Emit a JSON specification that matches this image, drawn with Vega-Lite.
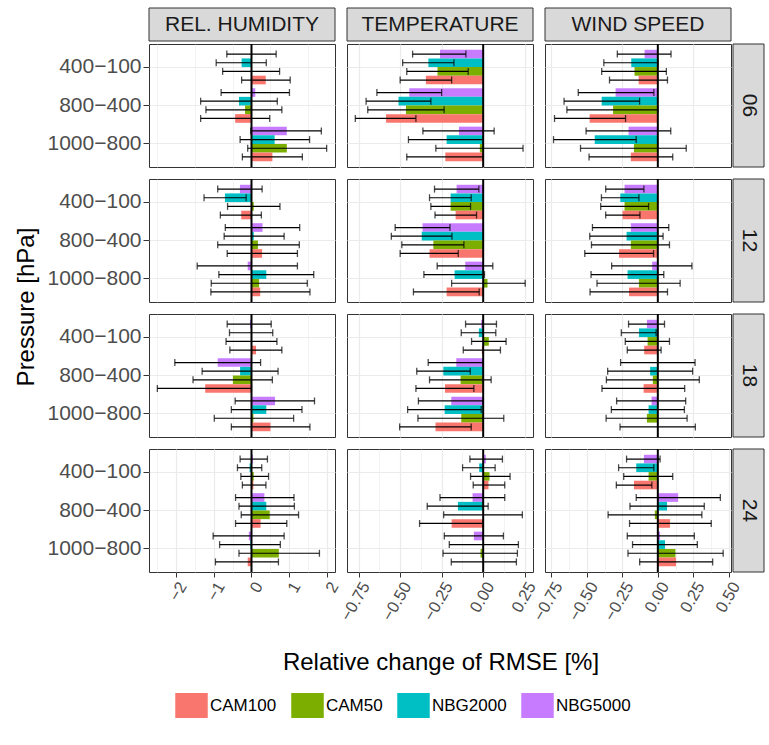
{
  "$schema": "https://vega.github.io/schema/vega-lite/v6.json",
  "background": "white",
  "padding": {"left": 15, "top": 7, "right": 2, "bottom": 8},
  "config": {
    "font": "Liberation Sans",
    "view": {"stroke": "#333333", "strokeWidth": 1},
    "axis": {"domain": false, "gridColor": "#EBEBEB", "tickColor": "#333333", "labelColor": "#4D4D4D", "titleFontWeight": "normal", "titleColor": "black", "tickSize": 6, "labelPadding": 2},
    "axisY": {"labelFontSize": 21},
    "axisX": {"labelFontSize": 16.5, "tickSize": 5},
    "legend": {"orient": "bottom", "direction": "horizontal", "labelFontSize": 17, "labelColor": "black", "symbolType": "M-1.3,-1H1.3V1H-1.3Z", "symbolSize": 625, "symbolStrokeWidth": 0, "symbolOpacity": 1, "columnPadding": 14, "labelOffset": 6, "offset": 15, "layout": {"bottom": {"anchor": "middle", "bounds": "full"}}}
  },
  "datasets": {
    "main": [
      {"hour":"06","variable":"REL. HUMIDITY","pressure":"400-100","model":"NBG5000","value":0.0,"lower":-0.65,"upper":0.65},
      {"hour":"06","variable":"REL. HUMIDITY","pressure":"400-100","model":"NBG2000","value":-0.26,"lower":-0.93,"upper":0.39},
      {"hour":"06","variable":"REL. HUMIDITY","pressure":"400-100","model":"CAM50","value":0.0,"lower":-0.76,"upper":0.74},
      {"hour":"06","variable":"REL. HUMIDITY","pressure":"400-100","model":"CAM100","value":0.375,"lower":-0.26,"upper":1.02},
      {"hour":"06","variable":"REL. HUMIDITY","pressure":"800-400","model":"NBG5000","value":0.1,"lower":-0.8,"upper":1.0},
      {"hour":"06","variable":"REL. HUMIDITY","pressure":"800-400","model":"NBG2000","value":-0.33,"lower":-1.34,"upper":0.68},
      {"hour":"06","variable":"REL. HUMIDITY","pressure":"800-400","model":"CAM50","value":-0.17,"lower":-1.2,"upper":0.8},
      {"hour":"06","variable":"REL. HUMIDITY","pressure":"800-400","model":"CAM100","value":-0.43,"lower":-1.34,"upper":0.48},
      {"hour":"06","variable":"REL. HUMIDITY","pressure":"1000-800","model":"NBG5000","value":0.93,"lower":-0.02,"upper":1.84},
      {"hour":"06","variable":"REL. HUMIDITY","pressure":"1000-800","model":"NBG2000","value":0.61,"lower":-0.3,"upper":1.53},
      {"hour":"06","variable":"REL. HUMIDITY","pressure":"1000-800","model":"CAM50","value":0.93,"lower":-0.1,"upper":1.98},
      {"hour":"06","variable":"REL. HUMIDITY","pressure":"1000-800","model":"CAM100","value":0.55,"lower":-0.24,"upper":1.34},
      {"hour":"06","variable":"TEMPERATURE","pressure":"400-100","model":"NBG5000","value":-0.26,"lower":-0.425,"upper":-0.104},
      {"hour":"06","variable":"TEMPERATURE","pressure":"400-100","model":"NBG2000","value":-0.33,"lower":-0.485,"upper":-0.176},
      {"hour":"06","variable":"TEMPERATURE","pressure":"400-100","model":"CAM50","value":-0.275,"lower":-0.46,"upper":-0.09},
      {"hour":"06","variable":"TEMPERATURE","pressure":"400-100","model":"CAM100","value":-0.345,"lower":-0.5,"upper":-0.19},
      {"hour":"06","variable":"TEMPERATURE","pressure":"800-400","model":"NBG5000","value":-0.445,"lower":-0.64,"upper":-0.25},
      {"hour":"06","variable":"TEMPERATURE","pressure":"800-400","model":"NBG2000","value":-0.51,"lower":-0.705,"upper":-0.315},
      {"hour":"06","variable":"TEMPERATURE","pressure":"800-400","model":"CAM50","value":-0.465,"lower":-0.695,"upper":-0.235},
      {"hour":"06","variable":"TEMPERATURE","pressure":"800-400","model":"CAM100","value":-0.585,"lower":-0.77,"upper":-0.405},
      {"hour":"06","variable":"TEMPERATURE","pressure":"1000-800","model":"NBG5000","value":-0.146,"lower":-0.363,"upper":0.066},
      {"hour":"06","variable":"TEMPERATURE","pressure":"1000-800","model":"NBG2000","value":-0.22,"lower":-0.45,"upper":0.0},
      {"hour":"06","variable":"TEMPERATURE","pressure":"1000-800","model":"CAM50","value":-0.02,"lower":-0.285,"upper":0.24},
      {"hour":"06","variable":"TEMPERATURE","pressure":"1000-800","model":"CAM100","value":-0.228,"lower":-0.46,"upper":0.0},
      {"hour":"06","variable":"WIND SPEED","pressure":"400-100","model":"NBG5000","value":-0.093,"lower":-0.285,"upper":0.093},
      {"hour":"06","variable":"WIND SPEED","pressure":"400-100","model":"NBG2000","value":-0.187,"lower":-0.38,"upper":0.0},
      {"hour":"06","variable":"WIND SPEED","pressure":"400-100","model":"CAM50","value":-0.164,"lower":-0.395,"upper":0.06},
      {"hour":"06","variable":"WIND SPEED","pressure":"400-100","model":"CAM100","value":-0.135,"lower":-0.34,"upper":0.068},
      {"hour":"06","variable":"WIND SPEED","pressure":"800-400","model":"NBG5000","value":-0.297,"lower":-0.56,"upper":-0.028},
      {"hour":"06","variable":"WIND SPEED","pressure":"800-400","model":"NBG2000","value":-0.395,"lower":-0.66,"upper":-0.128},
      {"hour":"06","variable":"WIND SPEED","pressure":"800-400","model":"CAM50","value":-0.315,"lower":-0.64,"upper":0.0},
      {"hour":"06","variable":"WIND SPEED","pressure":"800-400","model":"CAM100","value":-0.48,"lower":-0.727,"upper":-0.227},
      {"hour":"06","variable":"WIND SPEED","pressure":"1000-800","model":"NBG5000","value":-0.206,"lower":-0.505,"upper":0.091},
      {"hour":"06","variable":"WIND SPEED","pressure":"1000-800","model":"NBG2000","value":-0.444,"lower":-0.734,"upper":-0.152},
      {"hour":"06","variable":"WIND SPEED","pressure":"1000-800","model":"CAM50","value":-0.168,"lower":-0.544,"upper":0.2},
      {"hour":"06","variable":"WIND SPEED","pressure":"1000-800","model":"CAM100","value":-0.19,"lower":-0.484,"upper":0.105},
      {"hour":"12","variable":"REL. HUMIDITY","pressure":"400-100","model":"NBG5000","value":-0.305,"lower":-0.89,"upper":0.28},
      {"hour":"12","variable":"REL. HUMIDITY","pressure":"400-100","model":"NBG2000","value":-0.7,"lower":-1.25,"upper":-0.14},
      {"hour":"12","variable":"REL. HUMIDITY","pressure":"400-100","model":"CAM50","value":0.06,"lower":-0.63,"upper":0.75},
      {"hour":"12","variable":"REL. HUMIDITY","pressure":"400-100","model":"CAM100","value":-0.27,"lower":-0.82,"upper":0.26},
      {"hour":"12","variable":"REL. HUMIDITY","pressure":"800-400","model":"NBG5000","value":0.29,"lower":-0.69,"upper":1.27},
      {"hour":"12","variable":"REL. HUMIDITY","pressure":"800-400","model":"NBG2000","value":0.06,"lower":-0.72,"upper":0.86},
      {"hour":"12","variable":"REL. HUMIDITY","pressure":"800-400","model":"CAM50","value":0.17,"lower":-0.89,"upper":1.26},
      {"hour":"12","variable":"REL. HUMIDITY","pressure":"800-400","model":"CAM100","value":0.28,"lower":-0.64,"upper":1.21},
      {"hour":"12","variable":"REL. HUMIDITY","pressure":"1000-800","model":"NBG5000","value":-0.1,"lower":-1.43,"upper":1.21},
      {"hour":"12","variable":"REL. HUMIDITY","pressure":"1000-800","model":"NBG2000","value":0.39,"lower":-0.86,"upper":1.64},
      {"hour":"12","variable":"REL. HUMIDITY","pressure":"1000-800","model":"CAM50","value":0.2,"lower":-1.06,"upper":1.47},
      {"hour":"12","variable":"REL. HUMIDITY","pressure":"1000-800","model":"CAM100","value":0.23,"lower":-1.07,"upper":1.54},
      {"hour":"12","variable":"TEMPERATURE","pressure":"400-100","model":"NBG5000","value":-0.16,"lower":-0.293,"upper":-0.026},
      {"hour":"12","variable":"TEMPERATURE","pressure":"400-100","model":"NBG2000","value":-0.196,"lower":-0.323,"upper":-0.072},
      {"hour":"12","variable":"TEMPERATURE","pressure":"400-100","model":"CAM50","value":-0.196,"lower":-0.315,"upper":-0.076},
      {"hour":"12","variable":"TEMPERATURE","pressure":"400-100","model":"CAM100","value":-0.166,"lower":-0.29,"upper":-0.04},
      {"hour":"12","variable":"TEMPERATURE","pressure":"800-400","model":"NBG5000","value":-0.365,"lower":-0.53,"upper":-0.2},
      {"hour":"12","variable":"TEMPERATURE","pressure":"800-400","model":"NBG2000","value":-0.37,"lower":-0.553,"upper":-0.188},
      {"hour":"12","variable":"TEMPERATURE","pressure":"800-400","model":"CAM50","value":-0.3,"lower":-0.49,"upper":-0.116},
      {"hour":"12","variable":"TEMPERATURE","pressure":"800-400","model":"CAM100","value":-0.323,"lower":-0.5,"upper":-0.15},
      {"hour":"12","variable":"TEMPERATURE","pressure":"1000-800","model":"NBG5000","value":-0.108,"lower":-0.277,"upper":0.058},
      {"hour":"12","variable":"TEMPERATURE","pressure":"1000-800","model":"NBG2000","value":-0.172,"lower":-0.357,"upper":0.008},
      {"hour":"12","variable":"TEMPERATURE","pressure":"1000-800","model":"CAM50","value":0.026,"lower":-0.19,"upper":0.253},
      {"hour":"12","variable":"TEMPERATURE","pressure":"1000-800","model":"CAM100","value":-0.22,"lower":-0.42,"upper":-0.024},
      {"hour":"12","variable":"WIND SPEED","pressure":"400-100","model":"NBG5000","value":-0.234,"lower":-0.367,"upper":-0.098},
      {"hour":"12","variable":"WIND SPEED","pressure":"400-100","model":"NBG2000","value":-0.264,"lower":-0.397,"upper":-0.133},
      {"hour":"12","variable":"WIND SPEED","pressure":"400-100","model":"CAM50","value":-0.234,"lower":-0.402,"upper":-0.065},
      {"hour":"12","variable":"WIND SPEED","pressure":"400-100","model":"CAM100","value":-0.248,"lower":-0.367,"upper":-0.126},
      {"hour":"12","variable":"WIND SPEED","pressure":"800-400","model":"NBG5000","value":-0.19,"lower":-0.46,"upper":0.077},
      {"hour":"12","variable":"WIND SPEED","pressure":"800-400","model":"NBG2000","value":-0.22,"lower":-0.479,"upper":0.037},
      {"hour":"12","variable":"WIND SPEED","pressure":"800-400","model":"CAM50","value":-0.19,"lower":-0.467,"upper":0.082},
      {"hour":"12","variable":"WIND SPEED","pressure":"800-400","model":"CAM100","value":-0.273,"lower":-0.514,"upper":-0.03},
      {"hour":"12","variable":"WIND SPEED","pressure":"1000-800","model":"NBG5000","value":-0.04,"lower":-0.325,"upper":0.24},
      {"hour":"12","variable":"WIND SPEED","pressure":"1000-800","model":"NBG2000","value":-0.213,"lower":-0.47,"upper":0.042},
      {"hour":"12","variable":"WIND SPEED","pressure":"1000-800","model":"CAM50","value":-0.133,"lower":-0.428,"upper":0.157},
      {"hour":"12","variable":"WIND SPEED","pressure":"1000-800","model":"CAM100","value":-0.203,"lower":-0.477,"upper":0.068},
      {"hour":"18","variable":"REL. HUMIDITY","pressure":"400-100","model":"NBG5000","value":-0.04,"lower":-0.64,"upper":0.52},
      {"hour":"18","variable":"REL. HUMIDITY","pressure":"400-100","model":"NBG2000","value":0.0,"lower":-0.58,"upper":0.56},
      {"hour":"18","variable":"REL. HUMIDITY","pressure":"400-100","model":"CAM50","value":0.0,"lower":-0.67,"upper":0.67},
      {"hour":"18","variable":"REL. HUMIDITY","pressure":"400-100","model":"CAM100","value":0.12,"lower":-0.57,"upper":0.8},
      {"hour":"18","variable":"REL. HUMIDITY","pressure":"800-400","model":"NBG5000","value":-0.89,"lower":-2.02,"upper":0.24},
      {"hour":"18","variable":"REL. HUMIDITY","pressure":"800-400","model":"NBG2000","value":-0.3,"lower":-1.3,"upper":0.7},
      {"hour":"18","variable":"REL. HUMIDITY","pressure":"800-400","model":"CAM50","value":-0.49,"lower":-1.54,"upper":0.55},
      {"hour":"18","variable":"REL. HUMIDITY","pressure":"800-400","model":"CAM100","value":-1.22,"lower":-2.48,"upper":0.0},
      {"hour":"18","variable":"REL. HUMIDITY","pressure":"1000-800","model":"NBG5000","value":0.62,"lower":-0.43,"upper":1.66},
      {"hour":"18","variable":"REL. HUMIDITY","pressure":"1000-800","model":"NBG2000","value":0.39,"lower":-0.53,"upper":1.33},
      {"hour":"18","variable":"REL. HUMIDITY","pressure":"1000-800","model":"CAM50","value":0.05,"lower":-0.98,"upper":1.11},
      {"hour":"18","variable":"REL. HUMIDITY","pressure":"1000-800","model":"CAM100","value":0.5,"lower":-0.53,"upper":1.54},
      {"hour":"18","variable":"TEMPERATURE","pressure":"400-100","model":"NBG5000","value":-0.012,"lower":-0.106,"upper":0.08},
      {"hour":"18","variable":"TEMPERATURE","pressure":"400-100","model":"NBG2000","value":-0.026,"lower":-0.132,"upper":0.076},
      {"hour":"18","variable":"TEMPERATURE","pressure":"400-100","model":"CAM50","value":0.034,"lower":-0.07,"upper":0.138},
      {"hour":"18","variable":"TEMPERATURE","pressure":"400-100","model":"CAM100","value":-0.008,"lower":-0.12,"upper":0.104},
      {"hour":"18","variable":"TEMPERATURE","pressure":"800-400","model":"NBG5000","value":-0.162,"lower":-0.331,"upper":0.0},
      {"hour":"18","variable":"TEMPERATURE","pressure":"800-400","model":"NBG2000","value":-0.24,"lower":-0.4,"upper":-0.078},
      {"hour":"18","variable":"TEMPERATURE","pressure":"800-400","model":"CAM50","value":-0.136,"lower":-0.323,"upper":0.048},
      {"hour":"18","variable":"TEMPERATURE","pressure":"800-400","model":"CAM100","value":-0.23,"lower":-0.405,"upper":-0.056},
      {"hour":"18","variable":"TEMPERATURE","pressure":"1000-800","model":"NBG5000","value":-0.192,"lower":-0.39,"upper":0.0},
      {"hour":"18","variable":"TEMPERATURE","pressure":"1000-800","model":"NBG2000","value":-0.232,"lower":-0.455,"upper":-0.012},
      {"hour":"18","variable":"TEMPERATURE","pressure":"1000-800","model":"CAM50","value":-0.132,"lower":-0.393,"upper":0.124},
      {"hour":"18","variable":"TEMPERATURE","pressure":"1000-800","model":"CAM100","value":-0.287,"lower":-0.503,"upper":-0.072},
      {"hour":"18","variable":"WIND SPEED","pressure":"400-100","model":"NBG5000","value":-0.077,"lower":-0.206,"upper":0.047},
      {"hour":"18","variable":"WIND SPEED","pressure":"400-100","model":"NBG2000","value":-0.133,"lower":-0.257,"upper":-0.012},
      {"hour":"18","variable":"WIND SPEED","pressure":"400-100","model":"CAM50","value":-0.072,"lower":-0.229,"upper":0.082},
      {"hour":"18","variable":"WIND SPEED","pressure":"400-100","model":"CAM100","value":-0.096,"lower":-0.215,"upper":0.023},
      {"hour":"18","variable":"WIND SPEED","pressure":"800-400","model":"NBG5000","value":0.0,"lower":-0.262,"upper":0.262},
      {"hour":"18","variable":"WIND SPEED","pressure":"800-400","model":"NBG2000","value":-0.054,"lower":-0.353,"upper":0.245},
      {"hour":"18","variable":"WIND SPEED","pressure":"800-400","model":"CAM50","value":-0.035,"lower":-0.362,"upper":0.292},
      {"hour":"18","variable":"WIND SPEED","pressure":"800-400","model":"CAM100","value":-0.1,"lower":-0.393,"upper":0.189},
      {"hour":"18","variable":"WIND SPEED","pressure":"1000-800","model":"NBG5000","value":-0.044,"lower":-0.29,"upper":0.196},
      {"hour":"18","variable":"WIND SPEED","pressure":"1000-800","model":"NBG2000","value":-0.065,"lower":-0.327,"upper":0.187},
      {"hour":"18","variable":"WIND SPEED","pressure":"1000-800","model":"CAM50","value":-0.077,"lower":-0.364,"upper":0.206},
      {"hour":"18","variable":"WIND SPEED","pressure":"1000-800","model":"CAM100","value":0.0,"lower":-0.266,"upper":0.264},
      {"hour":"24","variable":"REL. HUMIDITY","pressure":"400-100","model":"NBG5000","value":0.04,"lower":-0.3,"upper":0.42},
      {"hour":"24","variable":"REL. HUMIDITY","pressure":"400-100","model":"NBG2000","value":-0.05,"lower":-0.37,"upper":0.27},
      {"hour":"24","variable":"REL. HUMIDITY","pressure":"400-100","model":"CAM50","value":0.06,"lower":-0.28,"upper":0.45},
      {"hour":"24","variable":"REL. HUMIDITY","pressure":"400-100","model":"CAM100","value":0.05,"lower":-0.24,"upper":0.38},
      {"hour":"24","variable":"REL. HUMIDITY","pressure":"800-400","model":"NBG5000","value":0.34,"lower":-0.42,"upper":1.12},
      {"hour":"24","variable":"REL. HUMIDITY","pressure":"800-400","model":"NBG2000","value":0.39,"lower":-0.33,"upper":1.13},
      {"hour":"24","variable":"REL. HUMIDITY","pressure":"800-400","model":"CAM50","value":0.48,"lower":-0.27,"upper":1.24},
      {"hour":"24","variable":"REL. HUMIDITY","pressure":"800-400","model":"CAM100","value":0.24,"lower":-0.42,"upper":0.93},
      {"hour":"24","variable":"REL. HUMIDITY","pressure":"1000-800","model":"NBG5000","value":-0.07,"lower":-1.01,"upper":0.86},
      {"hour":"24","variable":"REL. HUMIDITY","pressure":"1000-800","model":"NBG2000","value":-0.03,"lower":-0.84,"upper":0.76},
      {"hour":"24","variable":"REL. HUMIDITY","pressure":"1000-800","model":"CAM50","value":0.72,"lower":-0.33,"upper":1.79},
      {"hour":"24","variable":"REL. HUMIDITY","pressure":"1000-800","model":"CAM100","value":-0.1,"lower":-0.95,"upper":0.71},
      {"hour":"24","variable":"TEMPERATURE","pressure":"400-100","model":"NBG5000","value":0.016,"lower":-0.08,"upper":0.116},
      {"hour":"24","variable":"TEMPERATURE","pressure":"400-100","model":"NBG2000","value":-0.024,"lower":-0.124,"upper":0.072},
      {"hour":"24","variable":"TEMPERATURE","pressure":"400-100","model":"CAM50","value":0.038,"lower":-0.076,"upper":0.162},
      {"hour":"24","variable":"TEMPERATURE","pressure":"400-100","model":"CAM100","value":0.032,"lower":-0.06,"upper":0.13},
      {"hour":"24","variable":"TEMPERATURE","pressure":"800-400","model":"NBG5000","value":-0.064,"lower":-0.26,"upper":0.13},
      {"hour":"24","variable":"TEMPERATURE","pressure":"800-400","model":"NBG2000","value":-0.152,"lower":-0.337,"upper":0.03},
      {"hour":"24","variable":"TEMPERATURE","pressure":"800-400","model":"CAM50","value":0.0,"lower":-0.238,"upper":0.236},
      {"hour":"24","variable":"TEMPERATURE","pressure":"800-400","model":"CAM100","value":-0.19,"lower":-0.383,"upper":0.0},
      {"hour":"24","variable":"TEMPERATURE","pressure":"1000-800","model":"NBG5000","value":-0.056,"lower":-0.234,"upper":0.122},
      {"hour":"24","variable":"TEMPERATURE","pressure":"1000-800","model":"NBG2000","value":0.0,"lower":-0.204,"upper":0.212},
      {"hour":"24","variable":"TEMPERATURE","pressure":"1000-800","model":"CAM50","value":-0.016,"lower":-0.242,"upper":0.206},
      {"hour":"24","variable":"TEMPERATURE","pressure":"1000-800","model":"CAM100","value":0.0,"lower":-0.192,"upper":0.2},
      {"hour":"24","variable":"WIND SPEED","pressure":"400-100","model":"NBG5000","value":-0.098,"lower":-0.22,"upper":0.016},
      {"hour":"24","variable":"WIND SPEED","pressure":"400-100","model":"NBG2000","value":-0.152,"lower":-0.276,"upper":-0.028},
      {"hour":"24","variable":"WIND SPEED","pressure":"400-100","model":"CAM50","value":-0.065,"lower":-0.24,"upper":0.105},
      {"hour":"24","variable":"WIND SPEED","pressure":"400-100","model":"CAM100","value":-0.168,"lower":-0.292,"upper":-0.042},
      {"hour":"24","variable":"WIND SPEED","pressure":"800-400","model":"NBG5000","value":0.143,"lower":-0.152,"upper":0.44},
      {"hour":"24","variable":"WIND SPEED","pressure":"800-400","model":"NBG2000","value":0.065,"lower":-0.196,"upper":0.327},
      {"hour":"24","variable":"WIND SPEED","pressure":"800-400","model":"CAM50","value":-0.021,"lower":-0.35,"upper":0.31},
      {"hour":"24","variable":"WIND SPEED","pressure":"800-400","model":"CAM100","value":0.086,"lower":-0.199,"upper":0.376},
      {"hour":"24","variable":"WIND SPEED","pressure":"1000-800","model":"NBG5000","value":0.016,"lower":-0.215,"upper":0.257},
      {"hour":"24","variable":"WIND SPEED","pressure":"1000-800","model":"NBG2000","value":0.051,"lower":-0.178,"upper":0.278},
      {"hour":"24","variable":"WIND SPEED","pressure":"1000-800","model":"CAM50","value":0.124,"lower":-0.21,"upper":0.46},
      {"hour":"24","variable":"WIND SPEED","pressure":"1000-800","model":"CAM100","value":0.128,"lower":-0.128,"upper":0.386}
    ]
  },
  "hconcat": [
    {
      "width": 24, "height": 598,
      "view": {"stroke": null},
      "data": {"values": [{"t": "Pressure [hPa]"}]},
      "mark": {"type": "text", "angle": 270, "fontSize": 24, "color": "black"},
      "encoding": {"text": {"field": "t"}}
    },
    {
      "vconcat": [
        {
          "hconcat": [
            {
              "hconcat": [
                {
                  "vconcat": [
                    {
                      "width": 186, "height": 33, "view": {"stroke": null},
                      "data": {"values": [{"label": "REL. HUMIDITY"}]},
                      "layer": [
                        {"mark": {"type": "rect", "fill": "#D9D9D9", "stroke": "#333333", "strokeWidth": 1}, "encoding": {}},
                        {"mark": {"type": "text", "fontSize": 21, "color": "#1A1A1A"}, "encoding": {"text": {"field": "label"}}}
                      ]
                    },
                    {
                      "vconcat": [
                        {"width":186,"height":123,"data":{"name":"main"},"transform":[{"filter":"datum.variable === 'REL. HUMIDITY' && datum.hour === '06'"}],"layer":[
                          {"mark":{"type":"bar"},"encoding":{"y":{"field":"pressure","type":"nominal","sort":["400-100","800-400","1000-800"],"scale":{"paddingInner":0.1,"paddingOuter":0.15},"axis":{"title":null,"labelExpr":"replace(datum.label, '-', '−')","bandPosition":0.5,"grid":true}},"yOffset":{"field":"model","type":"nominal","sort":["NBG5000","NBG2000","CAM50","CAM100"],"scale":{"paddingInner":0,"paddingOuter":0}},"x":{"field":"value","type":"quantitative","stack":null,"scale":{"domain":[-2.7,2.2],"nice":false,"zero":false},"axis":{"title":null,"values":[-2.5,-2,-1.5,-1,-0.5,0,0.5,1,1.5,2],"labels":false,"ticks":false,"gridWidth":{"condition":{"test":"abs(datum.value - round(datum.value)) < 1e-6","value":1.2},"value":0.6}}},"x2":{"datum":0},"color":{"field":"model","type":"nominal","scale":{"domain":["CAM100","CAM50","NBG2000","NBG5000"],"range":["#F8766D","#7CAE00","#00BFC4","#C77CFF"]},"legend":{"title":null}}}},
                          {"mark":{"type":"rule","color":"black","strokeWidth":1.2},"encoding":{"y":{"field":"pressure","type":"nominal","sort":["400-100","800-400","1000-800"]},"yOffset":{"field":"model","type":"nominal","sort":["NBG5000","NBG2000","CAM50","CAM100"]},"x":{"field":"lower","type":"quantitative"},"x2":{"field":"upper"}}},
                          {"mark":{"type":"tick","color":"black","thickness":1.3,"size":7},"encoding":{"y":{"field":"pressure","type":"nominal","sort":["400-100","800-400","1000-800"]},"yOffset":{"field":"model","type":"nominal","sort":["NBG5000","NBG2000","CAM50","CAM100"]},"x":{"field":"lower","type":"quantitative"}}},
                          {"mark":{"type":"tick","color":"black","thickness":1.3,"size":7},"encoding":{"y":{"field":"pressure","type":"nominal","sort":["400-100","800-400","1000-800"]},"yOffset":{"field":"model","type":"nominal","sort":["NBG5000","NBG2000","CAM50","CAM100"]},"x":{"field":"upper","type":"quantitative"}}},
                          {"transform":[{"filter":"datum.model === 'CAM100' && datum.pressure === '400-100'"}],"mark":{"type":"rule","color":"black","strokeWidth":2},"encoding":{"x":{"datum":0}}}
                        ]},
                        {"width":186,"height":123,"data":{"name":"main"},"transform":[{"filter":"datum.variable === 'REL. HUMIDITY' && datum.hour === '12'"}],"layer":[
                          {"mark":{"type":"bar"},"encoding":{"y":{"field":"pressure","type":"nominal","sort":["400-100","800-400","1000-800"],"scale":{"paddingInner":0.1,"paddingOuter":0.15},"axis":{"title":null,"labelExpr":"replace(datum.label, '-', '−')","bandPosition":0.5,"grid":true}},"yOffset":{"field":"model","type":"nominal","sort":["NBG5000","NBG2000","CAM50","CAM100"],"scale":{"paddingInner":0,"paddingOuter":0}},"x":{"field":"value","type":"quantitative","stack":null,"scale":{"domain":[-2.7,2.2],"nice":false,"zero":false},"axis":{"title":null,"values":[-2.5,-2,-1.5,-1,-0.5,0,0.5,1,1.5,2],"labels":false,"ticks":false,"gridWidth":{"condition":{"test":"abs(datum.value - round(datum.value)) < 1e-6","value":1.2},"value":0.6}}},"x2":{"datum":0},"color":{"field":"model","type":"nominal","scale":{"domain":["CAM100","CAM50","NBG2000","NBG5000"],"range":["#F8766D","#7CAE00","#00BFC4","#C77CFF"]},"legend":{"title":null}}}},
                          {"mark":{"type":"rule","color":"black","strokeWidth":1.2},"encoding":{"y":{"field":"pressure","type":"nominal","sort":["400-100","800-400","1000-800"]},"yOffset":{"field":"model","type":"nominal","sort":["NBG5000","NBG2000","CAM50","CAM100"]},"x":{"field":"lower","type":"quantitative"},"x2":{"field":"upper"}}},
                          {"mark":{"type":"tick","color":"black","thickness":1.3,"size":7},"encoding":{"y":{"field":"pressure","type":"nominal","sort":["400-100","800-400","1000-800"]},"yOffset":{"field":"model","type":"nominal","sort":["NBG5000","NBG2000","CAM50","CAM100"]},"x":{"field":"lower","type":"quantitative"}}},
                          {"mark":{"type":"tick","color":"black","thickness":1.3,"size":7},"encoding":{"y":{"field":"pressure","type":"nominal","sort":["400-100","800-400","1000-800"]},"yOffset":{"field":"model","type":"nominal","sort":["NBG5000","NBG2000","CAM50","CAM100"]},"x":{"field":"upper","type":"quantitative"}}},
                          {"transform":[{"filter":"datum.model === 'CAM100' && datum.pressure === '400-100'"}],"mark":{"type":"rule","color":"black","strokeWidth":2},"encoding":{"x":{"datum":0}}}
                        ]},
                        {"width":186,"height":123,"data":{"name":"main"},"transform":[{"filter":"datum.variable === 'REL. HUMIDITY' && datum.hour === '18'"}],"layer":[
                          {"mark":{"type":"bar"},"encoding":{"y":{"field":"pressure","type":"nominal","sort":["400-100","800-400","1000-800"],"scale":{"paddingInner":0.1,"paddingOuter":0.15},"axis":{"title":null,"labelExpr":"replace(datum.label, '-', '−')","bandPosition":0.5,"grid":true}},"yOffset":{"field":"model","type":"nominal","sort":["NBG5000","NBG2000","CAM50","CAM100"],"scale":{"paddingInner":0,"paddingOuter":0}},"x":{"field":"value","type":"quantitative","stack":null,"scale":{"domain":[-2.7,2.2],"nice":false,"zero":false},"axis":{"title":null,"values":[-2.5,-2,-1.5,-1,-0.5,0,0.5,1,1.5,2],"labels":false,"ticks":false,"gridWidth":{"condition":{"test":"abs(datum.value - round(datum.value)) < 1e-6","value":1.2},"value":0.6}}},"x2":{"datum":0},"color":{"field":"model","type":"nominal","scale":{"domain":["CAM100","CAM50","NBG2000","NBG5000"],"range":["#F8766D","#7CAE00","#00BFC4","#C77CFF"]},"legend":{"title":null}}}},
                          {"mark":{"type":"rule","color":"black","strokeWidth":1.2},"encoding":{"y":{"field":"pressure","type":"nominal","sort":["400-100","800-400","1000-800"]},"yOffset":{"field":"model","type":"nominal","sort":["NBG5000","NBG2000","CAM50","CAM100"]},"x":{"field":"lower","type":"quantitative"},"x2":{"field":"upper"}}},
                          {"mark":{"type":"tick","color":"black","thickness":1.3,"size":7},"encoding":{"y":{"field":"pressure","type":"nominal","sort":["400-100","800-400","1000-800"]},"yOffset":{"field":"model","type":"nominal","sort":["NBG5000","NBG2000","CAM50","CAM100"]},"x":{"field":"lower","type":"quantitative"}}},
                          {"mark":{"type":"tick","color":"black","thickness":1.3,"size":7},"encoding":{"y":{"field":"pressure","type":"nominal","sort":["400-100","800-400","1000-800"]},"yOffset":{"field":"model","type":"nominal","sort":["NBG5000","NBG2000","CAM50","CAM100"]},"x":{"field":"upper","type":"quantitative"}}},
                          {"transform":[{"filter":"datum.model === 'CAM100' && datum.pressure === '400-100'"}],"mark":{"type":"rule","color":"black","strokeWidth":2},"encoding":{"x":{"datum":0}}}
                        ]},
                        {"width":186,"height":123,"data":{"name":"main"},"transform":[{"filter":"datum.variable === 'REL. HUMIDITY' && datum.hour === '24'"}],"resolve":{"axis":{"x":"independent"}},"layer":[
                          {"mark":{"type":"bar"},"encoding":{"y":{"field":"pressure","type":"nominal","sort":["400-100","800-400","1000-800"],"scale":{"paddingInner":0.1,"paddingOuter":0.15},"axis":{"title":null,"labelExpr":"replace(datum.label, '-', '−')","bandPosition":0.5,"grid":true}},"yOffset":{"field":"model","type":"nominal","sort":["NBG5000","NBG2000","CAM50","CAM100"],"scale":{"paddingInner":0,"paddingOuter":0}},"x":{"field":"value","type":"quantitative","stack":null,"scale":{"domain":[-2.7,2.2],"nice":false,"zero":false},"axis":{"title":null,"values":[-2,-1,0,1,2],"format":".0f","labelAngle":-60,"labelAlign":"right","labelBaseline":"top","labelOverlap":false,"labelFlush":false,"gridWidth":1.2}},"x2":{"datum":0},"color":{"field":"model","type":"nominal","scale":{"domain":["CAM100","CAM50","NBG2000","NBG5000"],"range":["#F8766D","#7CAE00","#00BFC4","#C77CFF"]},"legend":{"title":null}}}},
                          {"mark":{"type":"rule","color":"black","strokeWidth":1.2},"encoding":{"y":{"field":"pressure","type":"nominal","sort":["400-100","800-400","1000-800"]},"yOffset":{"field":"model","type":"nominal","sort":["NBG5000","NBG2000","CAM50","CAM100"]},"x":{"field":"lower","type":"quantitative","axis":{"orient":"top","title":null,"values":[-2.5,-1.5,-0.5,0.5,1.5],"labels":false,"ticks":false,"domain":false,"grid":true,"gridWidth":0.6}},"x2":{"field":"upper"}}},
                          {"mark":{"type":"tick","color":"black","thickness":1.3,"size":7},"encoding":{"y":{"field":"pressure","type":"nominal","sort":["400-100","800-400","1000-800"]},"yOffset":{"field":"model","type":"nominal","sort":["NBG5000","NBG2000","CAM50","CAM100"]},"x":{"field":"lower","type":"quantitative","axis":null}}},
                          {"mark":{"type":"tick","color":"black","thickness":1.3,"size":7},"encoding":{"y":{"field":"pressure","type":"nominal","sort":["400-100","800-400","1000-800"]},"yOffset":{"field":"model","type":"nominal","sort":["NBG5000","NBG2000","CAM50","CAM100"]},"x":{"field":"upper","type":"quantitative","axis":null}}},
                          {"transform":[{"filter":"datum.model === 'CAM100' && datum.pressure === '400-100'"}],"mark":{"type":"rule","color":"black","strokeWidth":2},"encoding":{"x":{"datum":0,"axis":null}}}
                        ]}
                      ],
                      "spacing": 8,
                      "resolve": {"scale": {"x": "independent", "y": "independent"}}
                    }
                  ],
                  "spacing": 0,
                  "resolve": {"scale": {"x": "independent", "y": "independent"}}
                },
                {
                  "vconcat": [
                    {
                      "width": 186, "height": 33, "view": {"stroke": null},
                      "data": {"values": [{"label": "TEMPERATURE"}]},
                      "layer": [
                        {"mark": {"type": "rect", "fill": "#D9D9D9", "stroke": "#333333", "strokeWidth": 1}, "encoding": {}},
                        {"mark": {"type": "text", "fontSize": 21, "color": "#1A1A1A"}, "encoding": {"text": {"field": "label"}}}
                      ]
                    },
                    {
                      "vconcat": [
                        {"width":186,"height":123,"data":{"name":"main"},"transform":[{"filter":"datum.variable === 'TEMPERATURE' && datum.hour === '06'"}],"layer":[
                          {"mark":{"type":"bar"},"encoding":{"y":{"field":"pressure","type":"nominal","sort":["400-100","800-400","1000-800"],"scale":{"paddingInner":0.1,"paddingOuter":0.15},"axis":{"title":null,"labels":false,"ticks":false,"bandPosition":0.5,"grid":true}},"yOffset":{"field":"model","type":"nominal","sort":["NBG5000","NBG2000","CAM50","CAM100"],"scale":{"paddingInner":0,"paddingOuter":0}},"x":{"field":"value","type":"quantitative","stack":null,"scale":{"domain":[-0.82,0.3],"nice":false,"zero":false},"axis":{"title":null,"values":[-0.75,-0.625,-0.5,-0.375,-0.25,-0.125,0,0.125,0.25],"labels":false,"ticks":false,"gridWidth":{"condition":{"test":"abs(datum.value * 4 - round(datum.value * 4)) < 1e-6","value":1.2},"value":0.6}}},"x2":{"datum":0},"color":{"field":"model","type":"nominal","scale":{"domain":["CAM100","CAM50","NBG2000","NBG5000"],"range":["#F8766D","#7CAE00","#00BFC4","#C77CFF"]},"legend":{"title":null}}}},
                          {"mark":{"type":"rule","color":"black","strokeWidth":1.2},"encoding":{"y":{"field":"pressure","type":"nominal","sort":["400-100","800-400","1000-800"]},"yOffset":{"field":"model","type":"nominal","sort":["NBG5000","NBG2000","CAM50","CAM100"]},"x":{"field":"lower","type":"quantitative"},"x2":{"field":"upper"}}},
                          {"mark":{"type":"tick","color":"black","thickness":1.3,"size":7},"encoding":{"y":{"field":"pressure","type":"nominal","sort":["400-100","800-400","1000-800"]},"yOffset":{"field":"model","type":"nominal","sort":["NBG5000","NBG2000","CAM50","CAM100"]},"x":{"field":"lower","type":"quantitative"}}},
                          {"mark":{"type":"tick","color":"black","thickness":1.3,"size":7},"encoding":{"y":{"field":"pressure","type":"nominal","sort":["400-100","800-400","1000-800"]},"yOffset":{"field":"model","type":"nominal","sort":["NBG5000","NBG2000","CAM50","CAM100"]},"x":{"field":"upper","type":"quantitative"}}},
                          {"transform":[{"filter":"datum.model === 'CAM100' && datum.pressure === '400-100'"}],"mark":{"type":"rule","color":"black","strokeWidth":2},"encoding":{"x":{"datum":0}}}
                        ]},
                        {"width":186,"height":123,"data":{"name":"main"},"transform":[{"filter":"datum.variable === 'TEMPERATURE' && datum.hour === '12'"}],"layer":[
                          {"mark":{"type":"bar"},"encoding":{"y":{"field":"pressure","type":"nominal","sort":["400-100","800-400","1000-800"],"scale":{"paddingInner":0.1,"paddingOuter":0.15},"axis":{"title":null,"labels":false,"ticks":false,"bandPosition":0.5,"grid":true}},"yOffset":{"field":"model","type":"nominal","sort":["NBG5000","NBG2000","CAM50","CAM100"],"scale":{"paddingInner":0,"paddingOuter":0}},"x":{"field":"value","type":"quantitative","stack":null,"scale":{"domain":[-0.82,0.3],"nice":false,"zero":false},"axis":{"title":null,"values":[-0.75,-0.625,-0.5,-0.375,-0.25,-0.125,0,0.125,0.25],"labels":false,"ticks":false,"gridWidth":{"condition":{"test":"abs(datum.value * 4 - round(datum.value * 4)) < 1e-6","value":1.2},"value":0.6}}},"x2":{"datum":0},"color":{"field":"model","type":"nominal","scale":{"domain":["CAM100","CAM50","NBG2000","NBG5000"],"range":["#F8766D","#7CAE00","#00BFC4","#C77CFF"]},"legend":{"title":null}}}},
                          {"mark":{"type":"rule","color":"black","strokeWidth":1.2},"encoding":{"y":{"field":"pressure","type":"nominal","sort":["400-100","800-400","1000-800"]},"yOffset":{"field":"model","type":"nominal","sort":["NBG5000","NBG2000","CAM50","CAM100"]},"x":{"field":"lower","type":"quantitative"},"x2":{"field":"upper"}}},
                          {"mark":{"type":"tick","color":"black","thickness":1.3,"size":7},"encoding":{"y":{"field":"pressure","type":"nominal","sort":["400-100","800-400","1000-800"]},"yOffset":{"field":"model","type":"nominal","sort":["NBG5000","NBG2000","CAM50","CAM100"]},"x":{"field":"lower","type":"quantitative"}}},
                          {"mark":{"type":"tick","color":"black","thickness":1.3,"size":7},"encoding":{"y":{"field":"pressure","type":"nominal","sort":["400-100","800-400","1000-800"]},"yOffset":{"field":"model","type":"nominal","sort":["NBG5000","NBG2000","CAM50","CAM100"]},"x":{"field":"upper","type":"quantitative"}}},
                          {"transform":[{"filter":"datum.model === 'CAM100' && datum.pressure === '400-100'"}],"mark":{"type":"rule","color":"black","strokeWidth":2},"encoding":{"x":{"datum":0}}}
                        ]},
                        {"width":186,"height":123,"data":{"name":"main"},"transform":[{"filter":"datum.variable === 'TEMPERATURE' && datum.hour === '18'"}],"layer":[
                          {"mark":{"type":"bar"},"encoding":{"y":{"field":"pressure","type":"nominal","sort":["400-100","800-400","1000-800"],"scale":{"paddingInner":0.1,"paddingOuter":0.15},"axis":{"title":null,"labels":false,"ticks":false,"bandPosition":0.5,"grid":true}},"yOffset":{"field":"model","type":"nominal","sort":["NBG5000","NBG2000","CAM50","CAM100"],"scale":{"paddingInner":0,"paddingOuter":0}},"x":{"field":"value","type":"quantitative","stack":null,"scale":{"domain":[-0.82,0.3],"nice":false,"zero":false},"axis":{"title":null,"values":[-0.75,-0.625,-0.5,-0.375,-0.25,-0.125,0,0.125,0.25],"labels":false,"ticks":false,"gridWidth":{"condition":{"test":"abs(datum.value * 4 - round(datum.value * 4)) < 1e-6","value":1.2},"value":0.6}}},"x2":{"datum":0},"color":{"field":"model","type":"nominal","scale":{"domain":["CAM100","CAM50","NBG2000","NBG5000"],"range":["#F8766D","#7CAE00","#00BFC4","#C77CFF"]},"legend":{"title":null}}}},
                          {"mark":{"type":"rule","color":"black","strokeWidth":1.2},"encoding":{"y":{"field":"pressure","type":"nominal","sort":["400-100","800-400","1000-800"]},"yOffset":{"field":"model","type":"nominal","sort":["NBG5000","NBG2000","CAM50","CAM100"]},"x":{"field":"lower","type":"quantitative"},"x2":{"field":"upper"}}},
                          {"mark":{"type":"tick","color":"black","thickness":1.3,"size":7},"encoding":{"y":{"field":"pressure","type":"nominal","sort":["400-100","800-400","1000-800"]},"yOffset":{"field":"model","type":"nominal","sort":["NBG5000","NBG2000","CAM50","CAM100"]},"x":{"field":"lower","type":"quantitative"}}},
                          {"mark":{"type":"tick","color":"black","thickness":1.3,"size":7},"encoding":{"y":{"field":"pressure","type":"nominal","sort":["400-100","800-400","1000-800"]},"yOffset":{"field":"model","type":"nominal","sort":["NBG5000","NBG2000","CAM50","CAM100"]},"x":{"field":"upper","type":"quantitative"}}},
                          {"transform":[{"filter":"datum.model === 'CAM100' && datum.pressure === '400-100'"}],"mark":{"type":"rule","color":"black","strokeWidth":2},"encoding":{"x":{"datum":0}}}
                        ]},
                        {"width":186,"height":123,"data":{"name":"main"},"transform":[{"filter":"datum.variable === 'TEMPERATURE' && datum.hour === '24'"}],"resolve":{"axis":{"x":"independent"}},"layer":[
                          {"mark":{"type":"bar"},"encoding":{"y":{"field":"pressure","type":"nominal","sort":["400-100","800-400","1000-800"],"scale":{"paddingInner":0.1,"paddingOuter":0.15},"axis":{"title":null,"labels":false,"ticks":false,"bandPosition":0.5,"grid":true}},"yOffset":{"field":"model","type":"nominal","sort":["NBG5000","NBG2000","CAM50","CAM100"],"scale":{"paddingInner":0,"paddingOuter":0}},"x":{"field":"value","type":"quantitative","stack":null,"scale":{"domain":[-0.82,0.3],"nice":false,"zero":false},"axis":{"title":null,"values":[-0.75,-0.5,-0.25,0,0.25],"format":".2f","labelAngle":-60,"labelAlign":"right","labelBaseline":"top","labelOverlap":false,"labelFlush":false,"gridWidth":1.2}},"x2":{"datum":0},"color":{"field":"model","type":"nominal","scale":{"domain":["CAM100","CAM50","NBG2000","NBG5000"],"range":["#F8766D","#7CAE00","#00BFC4","#C77CFF"]},"legend":{"title":null}}}},
                          {"mark":{"type":"rule","color":"black","strokeWidth":1.2},"encoding":{"y":{"field":"pressure","type":"nominal","sort":["400-100","800-400","1000-800"]},"yOffset":{"field":"model","type":"nominal","sort":["NBG5000","NBG2000","CAM50","CAM100"]},"x":{"field":"lower","type":"quantitative","axis":{"orient":"top","title":null,"values":[-0.625,-0.375,-0.125,0.125],"labels":false,"ticks":false,"domain":false,"grid":true,"gridWidth":0.6}},"x2":{"field":"upper"}}},
                          {"mark":{"type":"tick","color":"black","thickness":1.3,"size":7},"encoding":{"y":{"field":"pressure","type":"nominal","sort":["400-100","800-400","1000-800"]},"yOffset":{"field":"model","type":"nominal","sort":["NBG5000","NBG2000","CAM50","CAM100"]},"x":{"field":"lower","type":"quantitative","axis":null}}},
                          {"mark":{"type":"tick","color":"black","thickness":1.3,"size":7},"encoding":{"y":{"field":"pressure","type":"nominal","sort":["400-100","800-400","1000-800"]},"yOffset":{"field":"model","type":"nominal","sort":["NBG5000","NBG2000","CAM50","CAM100"]},"x":{"field":"upper","type":"quantitative","axis":null}}},
                          {"transform":[{"filter":"datum.model === 'CAM100' && datum.pressure === '400-100'"}],"mark":{"type":"rule","color":"black","strokeWidth":2},"encoding":{"x":{"datum":0,"axis":null}}}
                        ]}
                      ],
                      "spacing": 8,
                      "resolve": {"scale": {"x": "independent", "y": "independent"}}
                    }
                  ],
                  "spacing": 0,
                  "resolve": {"scale": {"x": "independent", "y": "independent"}}
                }
              ],
              "spacing": -6,
              "align": "none",
              "resolve": {"scale": {"x": "independent", "y": "independent"}}
            },
            {
              "vconcat": [
                {
                  "width": 186, "height": 33, "view": {"stroke": null},
                  "data": {"values": [{"label": "WIND SPEED"}]},
                  "layer": [
                    {"mark": {"type": "rect", "fill": "#D9D9D9", "stroke": "#333333", "strokeWidth": 1}, "encoding": {}},
                    {"mark": {"type": "text", "fontSize": 21, "color": "#1A1A1A"}, "encoding": {"text": {"field": "label"}}}
                  ]
                },
                {
                  "vconcat": [
                    {"hconcat": [
                      {"width":186,"height":123,"data":{"name":"main"},"transform":[{"filter":"datum.variable === 'WIND SPEED' && datum.hour === '06'"}],"layer":[
                        {"mark":{"type":"bar"},"encoding":{"y":{"field":"pressure","type":"nominal","sort":["400-100","800-400","1000-800"],"scale":{"paddingInner":0.1,"paddingOuter":0.15},"axis":{"title":null,"labels":false,"ticks":false,"bandPosition":0.5,"grid":true}},"yOffset":{"field":"model","type":"nominal","sort":["NBG5000","NBG2000","CAM50","CAM100"],"scale":{"paddingInner":0,"paddingOuter":0}},"x":{"field":"value","type":"quantitative","stack":null,"scale":{"domain":[-0.794,0.515],"nice":false,"zero":false},"axis":{"title":null,"values":[-0.75,-0.625,-0.5,-0.375,-0.25,-0.125,0,0.125,0.25,0.375,0.5],"labels":false,"ticks":false,"gridWidth":{"condition":{"test":"abs(datum.value * 4 - round(datum.value * 4)) < 1e-6","value":1.2},"value":0.6}}},"x2":{"datum":0},"color":{"field":"model","type":"nominal","scale":{"domain":["CAM100","CAM50","NBG2000","NBG5000"],"range":["#F8766D","#7CAE00","#00BFC4","#C77CFF"]},"legend":{"title":null}}}},
                        {"mark":{"type":"rule","color":"black","strokeWidth":1.2},"encoding":{"y":{"field":"pressure","type":"nominal","sort":["400-100","800-400","1000-800"]},"yOffset":{"field":"model","type":"nominal","sort":["NBG5000","NBG2000","CAM50","CAM100"]},"x":{"field":"lower","type":"quantitative"},"x2":{"field":"upper"}}},
                        {"mark":{"type":"tick","color":"black","thickness":1.3,"size":7},"encoding":{"y":{"field":"pressure","type":"nominal","sort":["400-100","800-400","1000-800"]},"yOffset":{"field":"model","type":"nominal","sort":["NBG5000","NBG2000","CAM50","CAM100"]},"x":{"field":"lower","type":"quantitative"}}},
                        {"mark":{"type":"tick","color":"black","thickness":1.3,"size":7},"encoding":{"y":{"field":"pressure","type":"nominal","sort":["400-100","800-400","1000-800"]},"yOffset":{"field":"model","type":"nominal","sort":["NBG5000","NBG2000","CAM50","CAM100"]},"x":{"field":"upper","type":"quantitative"}}},
                        {"transform":[{"filter":"datum.model === 'CAM100' && datum.pressure === '400-100'"}],"mark":{"type":"rule","color":"black","strokeWidth":2},"encoding":{"x":{"datum":0}}}
                      ]},
                      {"width": 31, "height": 123, "view": {"stroke": null}, "data": {"values": [{"hour": "06"}]}, "layer": [
                        {"mark": {"type": "rect", "fill": "#D9D9D9", "stroke": "#333333", "strokeWidth": 1}, "encoding": {}},
                        {"mark": {"type": "text", "fontSize": 21, "color": "#1A1A1A", "angle": 90}, "encoding": {"text": {"field": "hour"}}}
                      ]}
                    ], "spacing": 0, "align": "none", "resolve": {"scale": {"x": "independent", "y": "independent"}}},
                    {"hconcat": [
                      {"width":186,"height":123,"data":{"name":"main"},"transform":[{"filter":"datum.variable === 'WIND SPEED' && datum.hour === '12'"}],"layer":[
                        {"mark":{"type":"bar"},"encoding":{"y":{"field":"pressure","type":"nominal","sort":["400-100","800-400","1000-800"],"scale":{"paddingInner":0.1,"paddingOuter":0.15},"axis":{"title":null,"labels":false,"ticks":false,"bandPosition":0.5,"grid":true}},"yOffset":{"field":"model","type":"nominal","sort":["NBG5000","NBG2000","CAM50","CAM100"],"scale":{"paddingInner":0,"paddingOuter":0}},"x":{"field":"value","type":"quantitative","stack":null,"scale":{"domain":[-0.794,0.515],"nice":false,"zero":false},"axis":{"title":null,"values":[-0.75,-0.625,-0.5,-0.375,-0.25,-0.125,0,0.125,0.25,0.375,0.5],"labels":false,"ticks":false,"gridWidth":{"condition":{"test":"abs(datum.value * 4 - round(datum.value * 4)) < 1e-6","value":1.2},"value":0.6}}},"x2":{"datum":0},"color":{"field":"model","type":"nominal","scale":{"domain":["CAM100","CAM50","NBG2000","NBG5000"],"range":["#F8766D","#7CAE00","#00BFC4","#C77CFF"]},"legend":{"title":null}}}},
                        {"mark":{"type":"rule","color":"black","strokeWidth":1.2},"encoding":{"y":{"field":"pressure","type":"nominal","sort":["400-100","800-400","1000-800"]},"yOffset":{"field":"model","type":"nominal","sort":["NBG5000","NBG2000","CAM50","CAM100"]},"x":{"field":"lower","type":"quantitative"},"x2":{"field":"upper"}}},
                        {"mark":{"type":"tick","color":"black","thickness":1.3,"size":7},"encoding":{"y":{"field":"pressure","type":"nominal","sort":["400-100","800-400","1000-800"]},"yOffset":{"field":"model","type":"nominal","sort":["NBG5000","NBG2000","CAM50","CAM100"]},"x":{"field":"lower","type":"quantitative"}}},
                        {"mark":{"type":"tick","color":"black","thickness":1.3,"size":7},"encoding":{"y":{"field":"pressure","type":"nominal","sort":["400-100","800-400","1000-800"]},"yOffset":{"field":"model","type":"nominal","sort":["NBG5000","NBG2000","CAM50","CAM100"]},"x":{"field":"upper","type":"quantitative"}}},
                        {"transform":[{"filter":"datum.model === 'CAM100' && datum.pressure === '400-100'"}],"mark":{"type":"rule","color":"black","strokeWidth":2},"encoding":{"x":{"datum":0}}}
                      ]},
                      {"width": 31, "height": 123, "view": {"stroke": null}, "data": {"values": [{"hour": "12"}]}, "layer": [
                        {"mark": {"type": "rect", "fill": "#D9D9D9", "stroke": "#333333", "strokeWidth": 1}, "encoding": {}},
                        {"mark": {"type": "text", "fontSize": 21, "color": "#1A1A1A", "angle": 90}, "encoding": {"text": {"field": "hour"}}}
                      ]}
                    ], "spacing": 0, "align": "none", "resolve": {"scale": {"x": "independent", "y": "independent"}}},
                    {"hconcat": [
                      {"width":186,"height":123,"data":{"name":"main"},"transform":[{"filter":"datum.variable === 'WIND SPEED' && datum.hour === '18'"}],"layer":[
                        {"mark":{"type":"bar"},"encoding":{"y":{"field":"pressure","type":"nominal","sort":["400-100","800-400","1000-800"],"scale":{"paddingInner":0.1,"paddingOuter":0.15},"axis":{"title":null,"labels":false,"ticks":false,"bandPosition":0.5,"grid":true}},"yOffset":{"field":"model","type":"nominal","sort":["NBG5000","NBG2000","CAM50","CAM100"],"scale":{"paddingInner":0,"paddingOuter":0}},"x":{"field":"value","type":"quantitative","stack":null,"scale":{"domain":[-0.794,0.515],"nice":false,"zero":false},"axis":{"title":null,"values":[-0.75,-0.625,-0.5,-0.375,-0.25,-0.125,0,0.125,0.25,0.375,0.5],"labels":false,"ticks":false,"gridWidth":{"condition":{"test":"abs(datum.value * 4 - round(datum.value * 4)) < 1e-6","value":1.2},"value":0.6}}},"x2":{"datum":0},"color":{"field":"model","type":"nominal","scale":{"domain":["CAM100","CAM50","NBG2000","NBG5000"],"range":["#F8766D","#7CAE00","#00BFC4","#C77CFF"]},"legend":{"title":null}}}},
                        {"mark":{"type":"rule","color":"black","strokeWidth":1.2},"encoding":{"y":{"field":"pressure","type":"nominal","sort":["400-100","800-400","1000-800"]},"yOffset":{"field":"model","type":"nominal","sort":["NBG5000","NBG2000","CAM50","CAM100"]},"x":{"field":"lower","type":"quantitative"},"x2":{"field":"upper"}}},
                        {"mark":{"type":"tick","color":"black","thickness":1.3,"size":7},"encoding":{"y":{"field":"pressure","type":"nominal","sort":["400-100","800-400","1000-800"]},"yOffset":{"field":"model","type":"nominal","sort":["NBG5000","NBG2000","CAM50","CAM100"]},"x":{"field":"lower","type":"quantitative"}}},
                        {"mark":{"type":"tick","color":"black","thickness":1.3,"size":7},"encoding":{"y":{"field":"pressure","type":"nominal","sort":["400-100","800-400","1000-800"]},"yOffset":{"field":"model","type":"nominal","sort":["NBG5000","NBG2000","CAM50","CAM100"]},"x":{"field":"upper","type":"quantitative"}}},
                        {"transform":[{"filter":"datum.model === 'CAM100' && datum.pressure === '400-100'"}],"mark":{"type":"rule","color":"black","strokeWidth":2},"encoding":{"x":{"datum":0}}}
                      ]},
                      {"width": 31, "height": 123, "view": {"stroke": null}, "data": {"values": [{"hour": "18"}]}, "layer": [
                        {"mark": {"type": "rect", "fill": "#D9D9D9", "stroke": "#333333", "strokeWidth": 1}, "encoding": {}},
                        {"mark": {"type": "text", "fontSize": 21, "color": "#1A1A1A", "angle": 90}, "encoding": {"text": {"field": "hour"}}}
                      ]}
                    ], "spacing": 0, "align": "none", "resolve": {"scale": {"x": "independent", "y": "independent"}}},
                    {"hconcat": [
                      {"width":186,"height":123,"data":{"name":"main"},"transform":[{"filter":"datum.variable === 'WIND SPEED' && datum.hour === '24'"}],"resolve":{"axis":{"x":"independent"}},"layer":[
                        {"mark":{"type":"bar"},"encoding":{"y":{"field":"pressure","type":"nominal","sort":["400-100","800-400","1000-800"],"scale":{"paddingInner":0.1,"paddingOuter":0.15},"axis":{"title":null,"labels":false,"ticks":false,"bandPosition":0.5,"grid":true}},"yOffset":{"field":"model","type":"nominal","sort":["NBG5000","NBG2000","CAM50","CAM100"],"scale":{"paddingInner":0,"paddingOuter":0}},"x":{"field":"value","type":"quantitative","stack":null,"scale":{"domain":[-0.794,0.515],"nice":false,"zero":false},"axis":{"title":null,"values":[-0.75,-0.5,-0.25,0,0.25,0.5],"format":".2f","labelAngle":-60,"labelAlign":"right","labelBaseline":"top","labelOverlap":false,"labelFlush":false,"gridWidth":1.2}},"x2":{"datum":0},"color":{"field":"model","type":"nominal","scale":{"domain":["CAM100","CAM50","NBG2000","NBG5000"],"range":["#F8766D","#7CAE00","#00BFC4","#C77CFF"]},"legend":{"title":null}}}},
                        {"mark":{"type":"rule","color":"black","strokeWidth":1.2},"encoding":{"y":{"field":"pressure","type":"nominal","sort":["400-100","800-400","1000-800"]},"yOffset":{"field":"model","type":"nominal","sort":["NBG5000","NBG2000","CAM50","CAM100"]},"x":{"field":"lower","type":"quantitative","axis":{"orient":"top","title":null,"values":[-0.625,-0.375,-0.125,0.125,0.375],"labels":false,"ticks":false,"domain":false,"grid":true,"gridWidth":0.6}},"x2":{"field":"upper"}}},
                        {"mark":{"type":"tick","color":"black","thickness":1.3,"size":7},"encoding":{"y":{"field":"pressure","type":"nominal","sort":["400-100","800-400","1000-800"]},"yOffset":{"field":"model","type":"nominal","sort":["NBG5000","NBG2000","CAM50","CAM100"]},"x":{"field":"lower","type":"quantitative","axis":null}}},
                        {"mark":{"type":"tick","color":"black","thickness":1.3,"size":7},"encoding":{"y":{"field":"pressure","type":"nominal","sort":["400-100","800-400","1000-800"]},"yOffset":{"field":"model","type":"nominal","sort":["NBG5000","NBG2000","CAM50","CAM100"]},"x":{"field":"upper","type":"quantitative","axis":null}}},
                        {"transform":[{"filter":"datum.model === 'CAM100' && datum.pressure === '400-100'"}],"mark":{"type":"rule","color":"black","strokeWidth":2},"encoding":{"x":{"datum":0,"axis":null}}}
                      ]},
                      {"width": 31, "height": 123, "view": {"stroke": null}, "data": {"values": [{"hour": "24"}]}, "layer": [
                        {"mark": {"type": "rect", "fill": "#D9D9D9", "stroke": "#333333", "strokeWidth": 1}, "encoding": {}},
                        {"mark": {"type": "text", "fontSize": 21, "color": "#1A1A1A", "angle": 90}, "encoding": {"text": {"field": "hour"}}}
                      ]}
                    ], "spacing": -12, "align": "none", "resolve": {"scale": {"x": "independent", "y": "independent"}}}
                  ],
                  "spacing": 8,
                  "resolve": {"scale": {"x": "independent", "y": "independent"}}
                }
              ],
              "spacing": 0,
              "resolve": {"scale": {"x": "independent", "y": "independent"}}
            }
          ],
          "spacing": -11,
          "align": "none",
          "resolve": {"scale": {"x": "independent", "y": "independent"}}
        },
        {
          "width": 584, "height": 30, "view": {"stroke": null},
          "data": {"values": [{"t": "Relative change of RMSE [%]"}]},
          "mark": {"type": "text", "fontSize": 24, "color": "black"},
          "encoding": {"text": {"field": "t"}}
        }
      ],
      "spacing": 24,
      "resolve": {"scale": {"x": "independent", "y": "independent", "color": "shared"}}
    }
  ],
  "spacing": 7,
  "align": "none",
  "resolve": {"scale": {"x": "independent", "y": "independent", "color": "independent"}}
}
